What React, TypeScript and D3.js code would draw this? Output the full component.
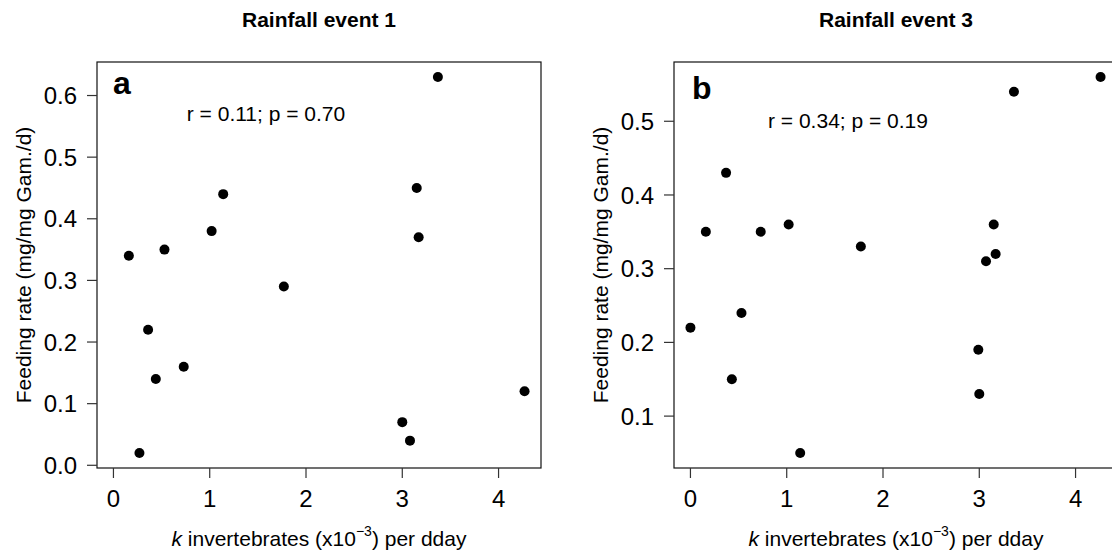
import React from "react";
import * as d3 from "d3";

// ---- data ----
const eventTitles = ["Rainfall event 1", "Rainfall event 3"];
const panelLetters = ["a", "b"];
const statsText = ["r = 0.11; p = 0.70", "r = 0.34; p = 0.19"];

const event1X = [0.16, 0.27, 0.36, 0.44, 0.53, 0.73, 1.02, 1.14, 1.77, 3.0, 3.08, 3.15, 3.17, 3.37, 4.27];
const event1Y = [0.34, 0.02, 0.22, 0.14, 0.35, 0.16, 0.38, 0.44, 0.29, 0.07, 0.04, 0.45, 0.37, 0.63, 0.12];

const event3X = [0.0, 0.16, 0.37, 0.43, 0.53, 0.73, 1.02, 1.14, 1.77, 2.99, 3.0, 3.07, 3.15, 3.17, 3.36, 4.26];
const event3Y = [0.22, 0.35, 0.43, 0.15, 0.24, 0.35, 0.36, 0.05, 0.33, 0.19, 0.13, 0.31, 0.36, 0.32, 0.54, 0.56];

const xTicks = [0, 1, 2, 3, 4];
const yTicks1 = [0.0, 0.1, 0.2, 0.3, 0.4, 0.5, 0.6];
const yTicks3 = [0.1, 0.2, 0.3, 0.4, 0.5];

const FONT = "'Liberation Sans', Arial, Helvetica, sans-serif";

function padded(ext: [number, number]): [number, number] {
  const p = (ext[1] - ext[0]) * 0.04;
  return [ext[0] - p, ext[1] + p];
}

type PanelProps = {
  left: number;
  right: number;
  top: number;
  bottom: number;
  xs: number[];
  ys: number[];
  xDomain: [number, number];
  yTicks: number[];
  yFmt: (v: number) => string;
  title: string;
  letter: string;
  letterDx: number;
  letterY: number;
  stats: string;
  statsDx: number;
  statsY: number;
};

function Panel(p: PanelProps) {
  const x = d3.scaleLinear().domain(p.xDomain).range([p.left, p.right]);
  const yExt = d3.extent(p.ys) as [number, number];
  const y = d3.scaleLinear().domain(padded(yExt)).range([p.bottom, p.top]);
  const cx = (p.left + p.right) / 2;
  const cy = (p.top + p.bottom) / 2;
  const tick = 10;
  return (
    <g fontFamily={FONT} fill="#000">
      <text x={cx} y={27} textAnchor="middle" fontWeight="bold" fontSize={21}>
        {p.title}
      </text>
      <rect
        x={p.left}
        y={p.top}
        width={p.right - p.left}
        height={p.bottom - p.top}
        fill="none"
        stroke="#111"
        strokeWidth={1.2}
      />
      {xTicks.map((t) => (
        <g key={"x" + t}>
          <line x1={x(t)} x2={x(t)} y1={p.bottom} y2={p.bottom + tick} stroke="#333" strokeWidth={1.2} />
          <text x={x(t)} y={p.bottom + 39} textAnchor="middle" fontSize={24}>
            {t}
          </text>
        </g>
      ))}
      {p.yTicks.map((t) => (
        <g key={"y" + t}>
          <line x1={p.left - tick} x2={p.left} y1={y(t)} y2={y(t)} stroke="#333" strokeWidth={1.2} />
          <text x={p.left - 20} y={y(t)} dy="0.36em" textAnchor="end" fontSize={24}>
            {p.yFmt(t)}
          </text>
        </g>
      ))}
      {p.xs.map((xv, i) => (
        <circle key={i} cx={x(xv)} cy={y(p.ys[i])} r={5} fill="#000" />
      ))}
      <text x={p.left + p.letterDx} y={p.letterY} fontWeight="bold" fontSize={32}>
        {p.letter}
      </text>
      <text x={p.left + p.statsDx} y={p.statsY} textAnchor="middle" fontSize={21}>
        {p.stats}
      </text>
      <text x={cx} y={546} textAnchor="middle" fontSize={21}>
        <tspan fontStyle="italic">k</tspan>
        <tspan> invertebrates (x10</tspan>
        <tspan fontSize={14} dy={-10}>−3</tspan>
        <tspan dy={10}>) per dday</tspan>
      </text>
      <text
        transform={`translate(${p.left - 66},${cy}) rotate(-90)`}
        textAnchor="middle"
        fontSize={21}
      >
        Feeding rate (mg/mg Gam./d)
      </text>
    </g>
  );
}

export default function App() {
  const xDomain = padded(d3.extent([...event1X, ...event3X, 0]) as [number, number]);
  const fmt1 = d3.format(".1f");
  return (
    <svg
      width={1112}
      height={557}
      style={{ position: "absolute", left: 0, top: 0, background: "#fff" }}
    >
      <rect x={0} y={0} width={1112} height={557} fill="#fff" />
      <Panel
        left={97}
        right={541}
        top={62}
        bottom={468}
        xs={event1X}
        ys={event1Y}
        xDomain={xDomain}
        yTicks={yTicks1}
        yFmt={fmt1}
        title={eventTitles[0]}
        letter={panelLetters[0]}
        letterDx={16}
        letterY={94}
        stats={statsText[0]}
        statsDx={169}
        statsY={121}
      />
      <Panel
        left={674}
        right={1118}
        top={62}
        bottom={468}
        xs={event3X}
        ys={event3Y}
        xDomain={xDomain}
        yTicks={yTicks3}
        yFmt={fmt1}
        title={eventTitles[1]}
        letter={panelLetters[1]}
        letterDx={18}
        letterY={99}
        stats={statsText[1]}
        statsDx={174}
        statsY={128}
      />
    </svg>
  );
}
